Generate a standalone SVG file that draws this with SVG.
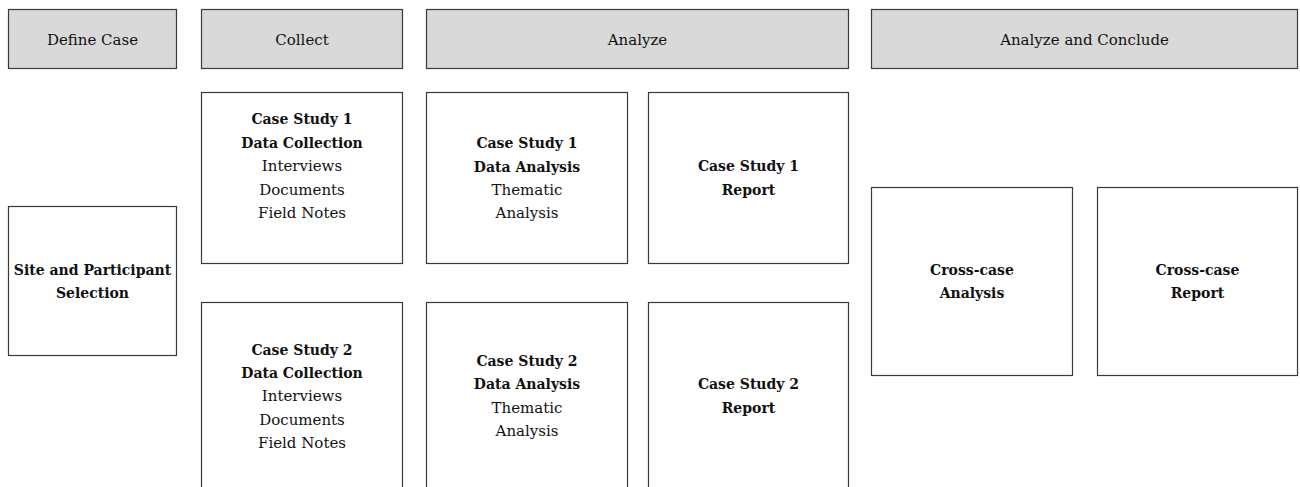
<svg xmlns="http://www.w3.org/2000/svg" width="1300" height="487" viewBox="0 0 1300 487">
  <style>
    .hdr { fill: #d9d9d9; stroke: #3a3a3a; stroke-width: 1.2; }
    .box { fill: #ffffff; stroke: #3a3a3a; stroke-width: 1.2; }
    .b { font-weight: bold; font-size: 14px; }
  </style>
  <rect width="1300" height="487" fill="#ffffff"/>

  <g font-family="DejaVu Serif, serif" font-size="15" fill="#111" text-anchor="middle">
  <!-- phase headers -->
  <g id="hdr-define">
    <rect class="hdr" x="8.5" y="9.5" width="168" height="59"/>
    <text x="92.5" y="45">Define Case</text>
  </g>
  <g id="hdr-collect">
    <rect class="hdr" x="201.5" y="9.5" width="201" height="59"/>
    <text x="302" y="45">Collect</text>
  </g>
  <g id="hdr-analyze">
    <rect class="hdr" x="426.5" y="9.5" width="422" height="59"/>
    <text x="637.5" y="45">Analyze</text>
  </g>
  <g id="hdr-conclude">
    <rect class="hdr" x="871.5" y="9.5" width="426" height="59"/>
    <text x="1084.5" y="45">Analyze and Conclude</text>
  </g>

  <!-- define case -->
  <g id="site-selection">
    <rect class="box" x="8.5" y="206.5" width="168" height="149"/>
    <text class="b" x="92.5" y="275">Site and Participant</text>
    <text class="b" x="92.5" y="298">Selection</text>
  </g>

  <!-- case study 1 -->
  <g id="cs1-collection">
    <rect class="box" x="201.5" y="92.5" width="201" height="171"/>
    <text class="b" x="302" y="124">Case Study 1</text>
    <text class="b" x="302" y="148">Data Collection</text>
    <text x="302" y="171">Interviews</text>
    <text x="302" y="195">Documents</text>
    <text x="302" y="218">Field Notes</text>
  </g>
  <g id="cs1-analysis">
    <rect class="box" x="426.5" y="92.5" width="201" height="171"/>
    <text class="b" x="527" y="148">Case Study 1</text>
    <text class="b" x="527" y="172">Data Analysis</text>
    <text x="527" y="195">Thematic</text>
    <text x="527" y="218">Analysis</text>
  </g>
  <g id="cs1-report">
    <rect class="box" x="648.5" y="92.5" width="200" height="171"/>
    <text class="b" x="748.5" y="171">Case Study 1</text>
    <text class="b" x="748.5" y="195">Report</text>
  </g>

  <!-- case study 2 -->
  <g id="cs2-collection">
    <rect class="box" x="201.5" y="302.5" width="201" height="200"/>
    <text class="b" x="302" y="355">Case Study 2</text>
    <text class="b" x="302" y="378">Data Collection</text>
    <text x="302" y="401">Interviews</text>
    <text x="302" y="425">Documents</text>
    <text x="302" y="448">Field Notes</text>
  </g>
  <g id="cs2-analysis">
    <rect class="box" x="426.5" y="302.5" width="201" height="200"/>
    <text class="b" x="527" y="366">Case Study 2</text>
    <text class="b" x="527" y="389">Data Analysis</text>
    <text x="527" y="413">Thematic</text>
    <text x="527" y="436">Analysis</text>
  </g>
  <g id="cs2-report">
    <rect class="box" x="648.5" y="302.5" width="200" height="200"/>
    <text class="b" x="748.5" y="389">Case Study 2</text>
    <text class="b" x="748.5" y="413">Report</text>
  </g>

  <!-- cross-case -->
  <g id="cross-analysis">
    <rect class="box" x="871.5" y="187.5" width="201" height="188"/>
    <text class="b" x="972" y="275">Cross-case</text>
    <text class="b" x="972" y="298">Analysis</text>
  </g>
  <g id="cross-report">
    <rect class="box" x="1097.5" y="187.5" width="200" height="188"/>
    <text class="b" x="1197.5" y="275">Cross-case</text>
    <text class="b" x="1197.5" y="298">Report</text>
  </g>
  </g>

  <!-- no connectors are drawn between the stages -->
  <g id="connectors"/>
</svg>
